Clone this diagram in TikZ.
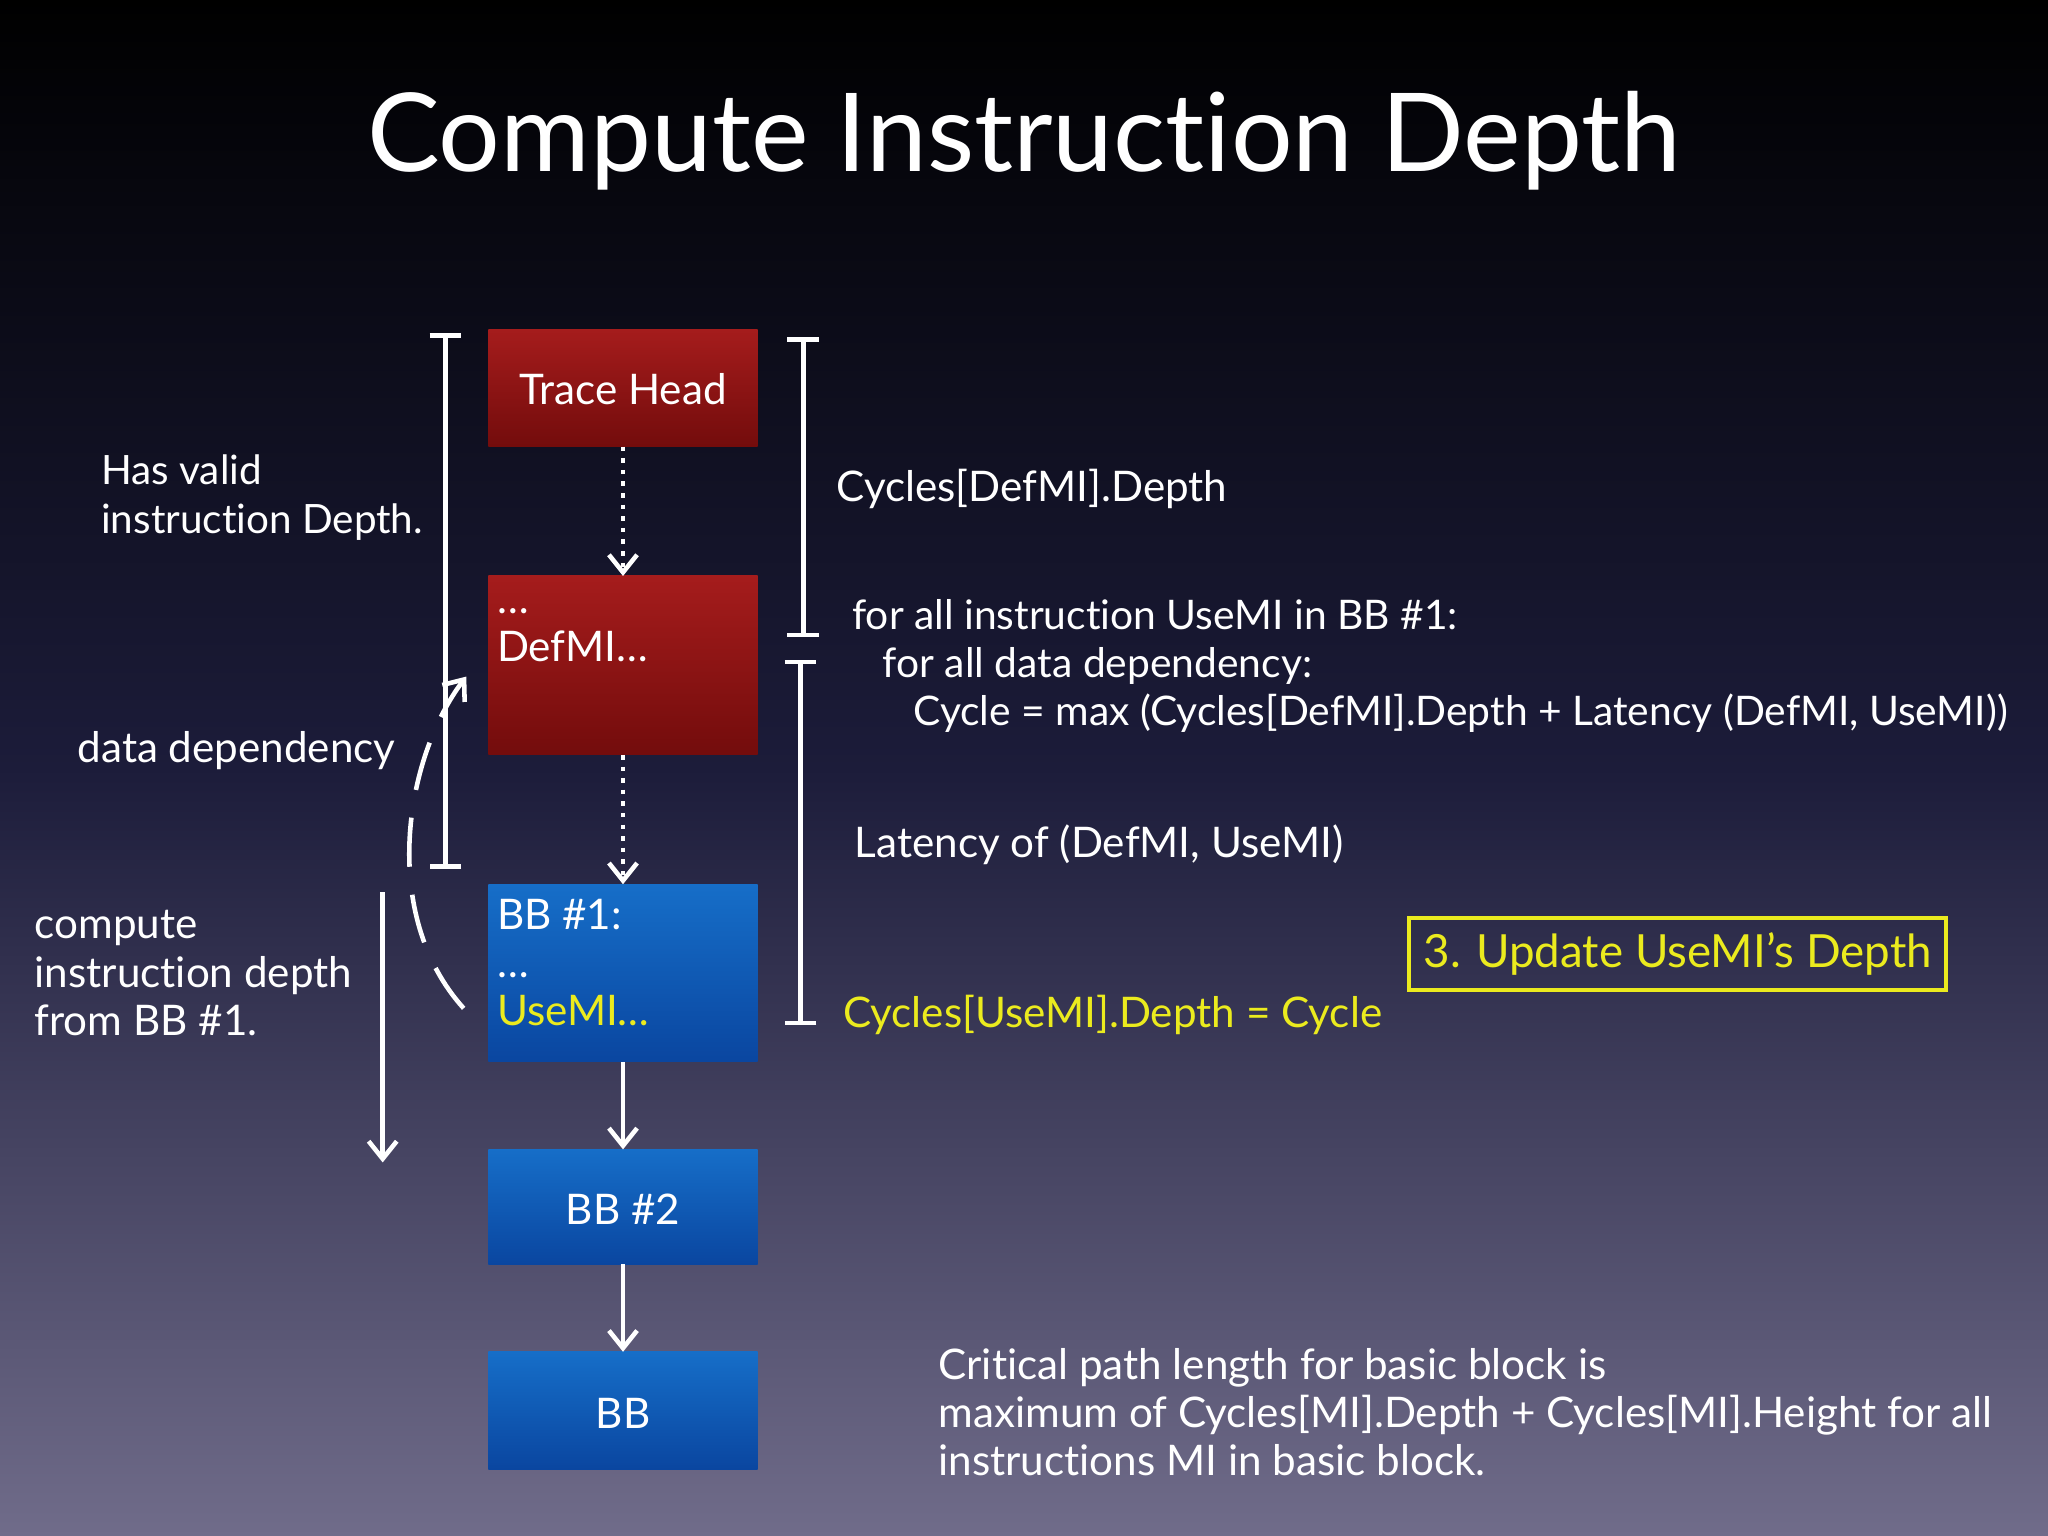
\documentclass[tikz,border=0pt]{standalone}
\usepackage{fontspec}
\setmainfont{Lato}[Ligatures=NoCommon]
\usetikzlibrary{arrows.meta}
\definecolor{redtop}{RGB}{165,28,28}
\definecolor{redbot}{RGB}{115,12,12}
\definecolor{bluetop}{RGB}{22,110,200}
\definecolor{bluebot}{RGB}{10,70,160}
\definecolor{hiyel}{RGB}{235,235,30}
\begin{document}
\begin{tikzpicture}[x=0.013061cm,y=-0.013061cm,
  txt/.style={text=white,font=\fontsize{12}{13.7}\selectfont,anchor=west,inner sep=0,align=left},
  arr/.style={white,line width=1.3pt,-{Straight Barb[length=5pt,width=8pt]}},
  brk/.style={white,line width=1.3pt,{Bar[width=9pt]}-{Bar[width=9pt]}}]
\shade[top color=black,bottom color={rgb,255:red,112;green,108;blue,138},middle color={rgb,255:red,28;green,28;blue,58}] (0,0) rectangle (1568,1176);
\useasboundingbox (0,0) rectangle (1568,1176);
\node[text=white,font=\fontsize{31}{37}\selectfont] (title) at (784,108) {Compute Instruction Depth};
% boxes
\shade[top color=redtop,bottom color=redbot] (374,252) rectangle (580,342);
\shade[top color=redtop,bottom color=redbot] (374,441) rectangle (580,578);
\shade[top color=bluetop,bottom color=bluebot] (374,677) rectangle (580,813);
\shade[top color=bluetop,bottom color=bluebot] (374,880) rectangle (580,968);
\shade[top color=bluetop,bottom color=bluebot] (374,1035) rectangle (580,1125);
\coordinate (th) at (477,342); \coordinate (defT) at (477,441);
\coordinate (defB) at (477,578); \coordinate (bb1T) at (477,677);
\coordinate (bb1B) at (477,813); \coordinate (bb2T) at (477,880);
\coordinate (bb2B) at (477,968); \coordinate (bbT) at (477,1035);
\node[txt,anchor=center] (thl) at (477,298) {Trace Head};
\node[txt] (defl) at (380,486) {\dots\\DefMI\dots};
\node[txt,anchor=north west] (bb1l) at (380,688) {BB \#1:\\\dots\\\textcolor{hiyel}{UseMI\dots}};
\node[txt,anchor=center] (bb2l) at (477,926) {BB \#2};
\node[txt,anchor=center] (bbl) at (477,1082) {BB};
% arrows
\draw[arr,dotted] (th) -- (defT);
\draw[arr,dotted] (defB) -- (bb1T);
\draw[arr] (bb1B) -- (bb2T);
\draw[arr] (bb2B) -- (bbT);
% brackets
\coordinate (lb1) at (341,255); \coordinate (lb2) at (341,665);
\draw[brk] (lb1) -- (lb2);
\coordinate (rb1) at (615,258); \coordinate (rb2) at (615,488);
\draw[brk] (rb1) -- (rb2);
\coordinate (rc1) at (613,505); \coordinate (rc2) at (613,785);
\draw[brk] (rc1) -- (rc2);
\coordinate (da1) at (293,683); \coordinate (da2) at (293,890);
\draw[arr] (da1) -- (da2);
\coordinate (dd1) at (355,772); \coordinate (dd2) at (357,518);
\draw[arr,dash pattern=on 14pt off 8pt] (dd1) .. controls (290,700) and (310,580) .. (dd2);
% left texts
\node[txt,font=\fontsize{11.5}{13.7}\selectfont] (valid) at (77,381) {Has valid\\instruction Depth.};
\node[txt] (ddl) at (59,575) {data dependency};
\node[txt] (cmp) at (26,745) {compute\\instruction depth\\from BB \#1.};
% right texts
\node[txt] (cyc) at (640,374) {Cycles[DefMI].Depth};
\node[txt,font=\fontsize{11.6}{13.7}\selectfont] (loop) at (652,510) {for all instruction UseMI in BB \#1:\\\hspace*{0.75em}for all data dependency:\\\hspace*{1.5em}Cycle = max (Cycles[DefMI].Depth + Latency (DefMI, UseMI))};
\node[txt] (lat) at (654,647) {Latency of (DefMI, UseMI)};
\node[txt,text=hiyel] (upd) at (645,777) {Cycles[UseMI].Depth = Cycle};
\node[draw=hiyel,line width=1pt,text=hiyel,font=\fontsize{13}{16}\selectfont,minimum width=5.37cm,minimum height=0.72cm,inner sep=0] (step) at (1284.5,730.5) {3. Update UseMI’s Depth};
\node[txt] (crit) at (718,1081) {Critical path length for basic block is\\maximum of Cycles[MI].Depth + Cycles[MI].Height for all\\instructions MI in basic block.};
\end{tikzpicture}
\end{document}
